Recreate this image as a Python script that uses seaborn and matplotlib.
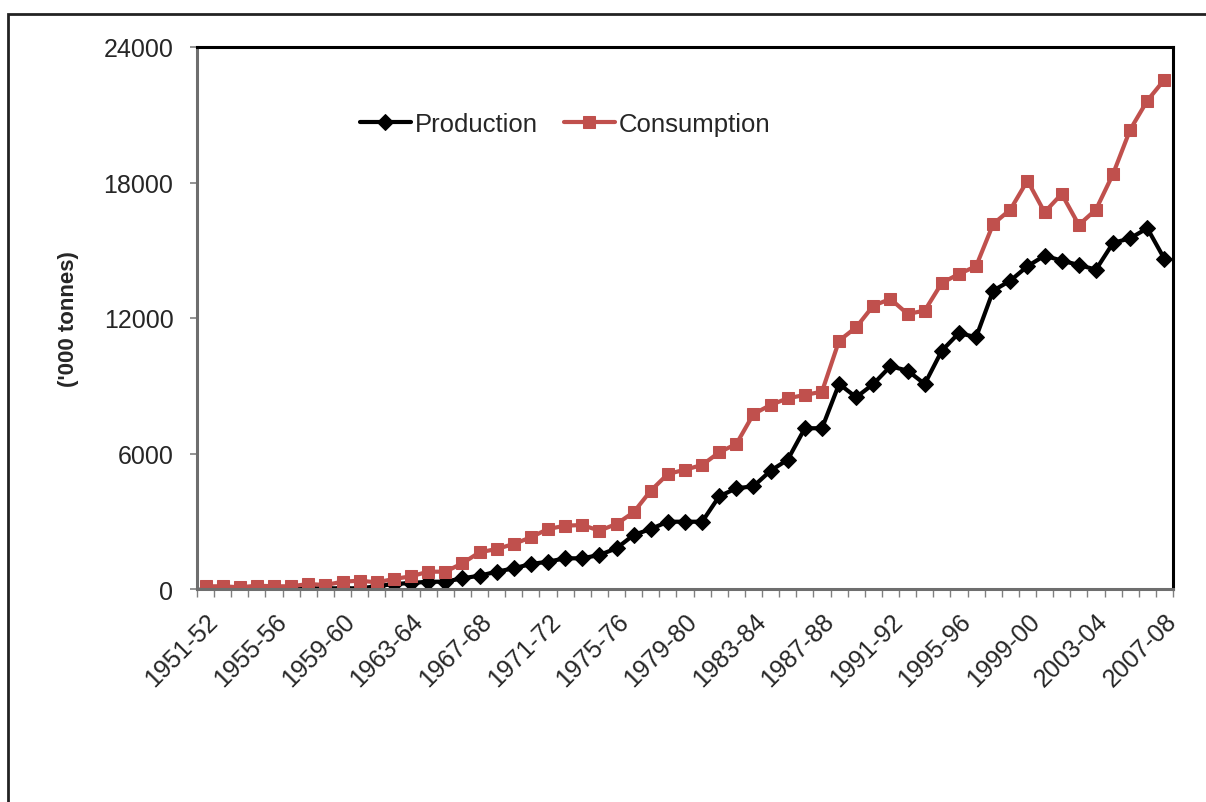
import numpy as np
import matplotlib
matplotlib.use("Agg")
import matplotlib.pyplot as plt
import seaborn as sns
from matplotlib.patches import Rectangle

# crop years 1951-52 .. 2007-08
years = [f"{y}-{str(y + 1)[-2:]}" for y in range(1951, 2008)]

production = [10, 10, 20, 20, 20, 30, 30, 30, 30, 30,
              120, 221, 266, 323, 323, 474, 589, 766, 915, 1107,
              1209, 1359, 1359, 1506, 1802, 2391, 2657, 2980, 2980, 2980,
              4105, 4460, 4548, 5239, 5726, 7117, 7120, 9079, 8490, 9079,
              9863, 9668, 9079, 10553, 11337, 11147, 13211, 13654, 14292, 14761,
              14540, 14349, 14141, 15323, 15532, 15974, 14615]

consumption = [120, 120, 75, 146, 120, 120, 221, 177, 323, 368,
               296, 443, 562, 766, 766, 1138, 1625, 1771, 1993, 2290,
               2657, 2803, 2834, 2582, 2879, 3397, 4353, 5093, 5283, 5491,
               6054, 6422, 7750, 8149, 8445, 8592, 8738, 10996, 11590, 12548,
               12843, 12179, 12326, 13552, 13950, 14292, 16165, 16799, 18084, 16683,
               17494, 16121, 16799, 18379, 20341, 21626, 22555]

yticks = [0, 6000, 12000, 18000, 24000]

sns.set_style("white")
plt.rcParams['font.family'] = ['Liberation Sans', 'DejaVu Sans']

fig = plt.figure(figsize=(12.06, 8.03), dpi=100)
ax = fig.add_axes([197 / 1206, 1 - 590 / 803, 976 / 1206, 542 / 803])

idx = np.arange(len(years))
sns.lineplot(x=idx, y=production, ax=ax, color='black', lw=3, marker='D',
             markersize=8.5, markeredgecolor='black', label='Production')
sns.lineplot(x=idx, y=consumption, ax=ax, color='#C0504D', lw=3, marker='s',
             markersize=8.5, markeredgecolor='#C0504D', label='Consumption')

ax.set_xlim(-0.5, len(years) - 0.5)
ax.set_ylim(0, 24000)
ax.set_yticks(yticks)
ax.set_yticklabels([str(v) for v in yticks], fontsize=18)
ax.tick_params(axis='y', direction='out', length=5, color='#808080', width=1.2, pad=12, left=True)

# category boundary ticks (no labels) + labels every 4th category
ax.set_xticks(np.arange(-0.5, len(years), 1))
ax.set_xticklabels([])
ax.tick_params(axis='x', which='major', direction='out', length=6, color='#808080', width=1, bottom=True)
ax.set_xticks(idx[::4], minor=True)
ax.set_xticklabels(years[::4], minor=True, rotation=45, ha='right',
                   rotation_mode='anchor', fontsize=18)
ax.tick_params(axis='x', which='minor', length=0, pad=14)

ax.set_ylabel("('000 tonnes)", fontsize=16, fontweight='bold', labelpad=18)

for side in ['top', 'right']:
    ax.spines[side].set_color('black')
    ax.spines[side].set_linewidth(2.2)
for side in ['left', 'bottom']:
    ax.spines[side].set_color('#6e6e6e')
    ax.spines[side].set_linewidth(2.2)

ax.legend(loc='center left', bbox_to_anchor=(0.143, 0.858), ncol=2, frameon=False,
          fontsize=18.5, handlelength=2.0, handletextpad=0.15, columnspacing=1.0)

# outer chart frame
fig.add_artist(Rectangle((8 / 1206, -0.1), 1.2, (803 - 15) / 803 + 0.1,
                         transform=fig.transFigure, fill=False, lw=2, ec='#222222'))

fig.savefig("out.png", dpi=100)
